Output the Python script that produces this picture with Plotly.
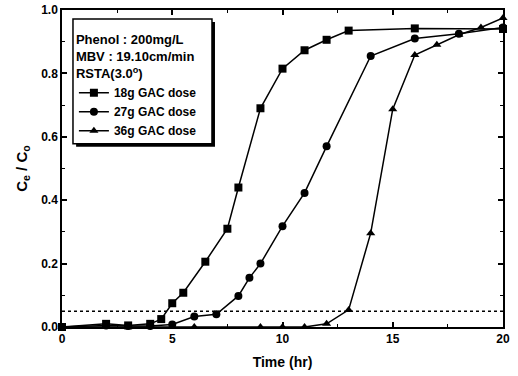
import plotly.graph_objects as go

# 18 g GAC dose
t_18 = [0, 2, 3, 4, 4.5, 5, 5.5, 6.5, 7.5, 8, 9, 10, 11, 12, 13, 16, 20]
c_18 = [0.0, 0.01, 0.005, 0.01, 0.025, 0.075, 0.108, 0.206, 0.31, 0.44, 0.69, 0.815, 0.873, 0.906, 0.935, 0.942, 0.94]
# 27 g GAC dose
t_27 = [0, 2, 3, 4, 5, 6, 7, 8, 8.5, 9, 10, 11, 12, 14, 16, 18, 20]
c_27 = [0.0, 0.005, 0.003, 0.003, 0.008, 0.033, 0.04, 0.098, 0.155, 0.2, 0.318, 0.423, 0.57, 0.855, 0.91, 0.925, 0.945]
# 36 g GAC dose
t_36 = [0, 2, 4, 6, 9, 10, 11, 12, 13, 14, 15, 16, 17, 18, 19, 20]
c_36 = [0.0, 0.0, 0.0, 0.0, 0.0, 0.0, 0.0, 0.01, 0.054, 0.296, 0.687, 0.858, 0.89, 0.922, 0.945, 0.975]

threshold = 0.05
x_range = [0, 20]
y_range = [0, 1.0]
x_ticks = [0, 5, 10, 15, 20]
y_ticks = [0.0, 0.2, 0.4, 0.6, 0.8, 1.0]

FONT = "Liberation Sans"

fig = go.Figure()
series = [
    (t_18, c_18, "18g GAC dose", "square"),
    (t_27, c_27, "27g GAC dose", "circle"),
    (t_36, c_36, "36g GAC dose", "triangle-up"),
]
for t, c, name, sym in series:
    fig.add_trace(go.Scatter(
        x=t, y=c, name=name, mode="lines+markers", cliponaxis=False,
        line=dict(color="black", width=1.5),
        marker=dict(symbol=sym, size=8, color="black"),
    ))

fig.add_trace(go.Scatter(
    x=x_range, y=[threshold, threshold], mode="lines", showlegend=False,
    line=dict(color="black", width=1.5, dash="dot"), hoverinfo="skip",
))

axis_common = dict(
    showline=True, linecolor="black", linewidth=1.5, mirror="ticks",
    ticks="inside", ticklen=5, tickwidth=1.5, tickcolor="black",
    showgrid=False, zeroline=False, automargin=False,
    ticklabeloverflow="allow",
    tickfont=dict(family=FONT, size=12, color="black", weight="bold"),
)

fig.update_xaxes(
    range=x_range, tickvals=x_ticks, ticktext=[str(v) for v in x_ticks],
    minor=dict(ticks="inside", ticklen=3, tickwidth=1, tickcolor="black", dtick=2.5),
    title=dict(text="Time (hr)", font=dict(family=FONT, size=14, color="black", weight="bold"), standoff=12),
    **axis_common,
)
fig.update_yaxes(
    range=y_range, tickvals=y_ticks, ticktext=[f"{v:.1f}" for v in y_ticks],
    minor=dict(ticks="inside", ticklen=3, tickwidth=1, tickcolor="black", dtick=0.1),
    title=dict(text="C<sub>e</sub> / C<sub>o</sub>", font=dict(family=FONT, size=15, color="black", weight="bold"), standoff=10),
    **axis_common,
)

# legend frame with drop shadow, drawn as shapes in paper coordinates
fig.add_shape(type="rect", xref="paper", yref="paper",
              x0=0.032, x1=0.3469, y0=0.569, y1=0.962,
              fillcolor="black", line=dict(width=0), layer="above")
fig.add_shape(type="rect", xref="paper", yref="paper",
              x0=0.0249, x1=0.3401, y0=0.578, y1=0.972,
              fillcolor="white", line=dict(color="black", width=1.5), layer="above")

fig.update_layout(
    width=518, height=376,
    margin=dict(l=62, r=15, t=10, b=49),
    paper_bgcolor="white", plot_bgcolor="white",
    font=dict(family=FONT, color="black"),
    legend=dict(
        x=0.027, y=0.945, xanchor="left", yanchor="top",
        bgcolor="rgba(0,0,0,0)", borderwidth=0,
        font=dict(family=FONT, size=12, color="black", weight="bold"),
        title=dict(text="Phenol : 200mg/L<br>MBV : 19.10cm/min<br>RSTA(3.0<sup>o</sup>)",
                   font=dict(family=FONT, size=13, color="black", weight="bold")),
        tracegroupgap=0, itemwidth=30,
    ),
    showlegend=True,
)

# remove the default page margin so the 518x376 figure fills the window exactly
fig.write_html("out.html", config={"displayModeBar": False},
               post_script="document.body.style.margin='0px';")
